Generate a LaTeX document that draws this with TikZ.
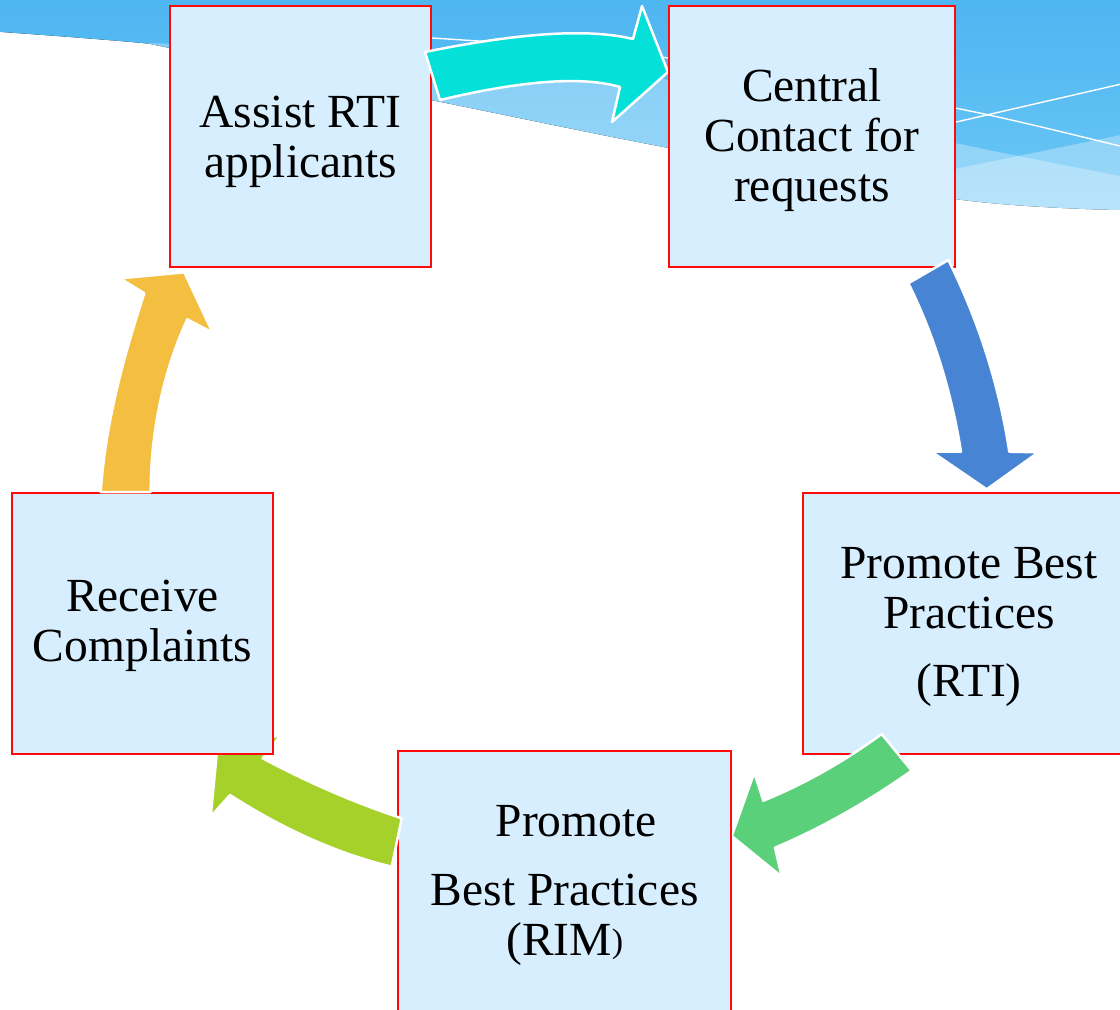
\documentclass[tikz,border=0pt]{standalone}
\usepackage{fontspec}
\setmainfont{Liberation Serif}
\definecolor{skytop}{HTML}{4DB5F1}
\definecolor{skylow}{HTML}{6CC8F6}
\definecolor{boxfill}{HTML}{D6EEFD}
\definecolor{boxred}{HTML}{FF0A0A}
\definecolor{arrcyan}{HTML}{05E1D9}
\definecolor{arrblue}{HTML}{4884D4}
\definecolor{arrgreen}{HTML}{5BD07B}
\definecolor{arrlime}{HTML}{A5D12A}
\definecolor{arryellow}{HTML}{F4BF41}
\begin{document}
\begin{tikzpicture}[x=1pt,y=-1pt,
  box/.style={rectangle, draw=boxred, line width=1.8pt, fill=boxfill, inner sep=0pt},
  boxtext/.style={inner sep=0pt, anchor=base, text=black, font=\fontsize{47.5}{50}\selectfont},
  blockarrow/.style={draw=white, line width=2.5pt, line join=round}]
\useasboundingbox (0,0) rectangle (1120,1010);
\clip (0,0) rectangle (1120,1010);

% wave band along the top edge
\begin{scope}
  \path[clip] (-5,-5) -- (1125,-5) -- (1125,211) -- plot[smooth,tension=0.55]
    coordinates {(1120,210) (955,199) (669,148) (431,100) (170,48) (147,43.5) (70,37) (-5,31.5)} -- cycle;
  \fill[top color=skytop, bottom color=skylow] (-5,-5) rectangle (1125,215);
  \fill[white, opacity=0.3] plot[smooth,tension=0.55]
    coordinates {(147,43) (300,48) (431,55) (669,80) (955,143) (1120,176) (1130,178)}
    -- (1130,300) -- (147,300) -- cycle;
  \fill[white, opacity=0.3] (800,201) -- (1130,133) -- (1130,300) -- (800,300) -- cycle;
  \draw[white, line width=1.4pt] plot[smooth]
    coordinates {(250,31) (432,38) (668,58) (955,108) (1120,146) (1130,148)};
  \draw[white, line width=1.4pt] (800,158) -- (1130,82);
\end{scope}

% cycle of steps with curved block arrows between them
\node[box, minimum width=261pt, minimum height=261pt] (b1) at (300.5,136.5) {};
\node[boxtext] (t1) at (300.5,127) {\begin{tabular}[t]{@{}c@{}}Assist RTI\\applicants\end{tabular}};

\fill[arrcyan, blockarrow] (425,52) .. controls (518,33) and (588,28) .. (633,39)
  -- (642,6) -- (668,72) -- (612,122) -- (620,87)
  .. controls (582.7,76) and (522.7,80.3) .. (440,100) -- cycle;

\node[box, minimum width=285.7pt, minimum height=261.3pt] (b2) at (811.85,136.65) {};
\node[boxtext] (t2) at (812,101.7) {\begin{tabular}[t]{@{}c@{}}Central\\Contact for\\requests\end{tabular}};

\fill[arrblue, blockarrow] (908.3,283.3) -- (948.3,260)
  .. controls (978.3,320) and (999.3,385.7) .. (1009.3,451.7)
  -- (1038.3,452.3) -- (986.7,489.3) -- (931.7,451.7) -- (961,451.7)
  .. controls (951.6,393.3) and (934.7,336) .. (908.3,283.3) -- cycle;

\node[box, minimum width=331.7pt, minimum height=261pt] (b3) at (969.2,623.2) {};
\node[boxtext] (t3) at (969,578.3) {\begin{tabular}[t]{@{}c@{}}Promote Best\\Practices\\[18.4pt](RTI)\end{tabular}};

\fill[arrgreen, blockarrow] (881.7,734) -- (911.7,770.7)
  .. controls (866.2,802.8) and (820.6,828.4) .. (775,847.7)
  -- (781.7,876.7) -- (731.7,836) -- (754.3,772.7) -- (763.3,800.7)
  .. controls (803.9,784.2) and (843.4,762) .. (881.7,734) -- cycle;

\node[box, minimum width=332.7pt, minimum height=347.3pt] (b4) at (564.7,924.3) {};
\node[boxtext] (t4) at (564.7,836.7) {\begin{tabular}[t]{@{}c@{}}\hspace*{23pt}Promote\\[18.3pt]Best Practices\\(RIM\raisebox{3pt}{\fontsize{34}{34}\selectfont)}\end{tabular}};

\fill[arrlime, blockarrow] (401.7,818.3) .. controls (355.4,803) and (309,783) .. (262.7,758.3)
  -- (281,735) -- (217,751) -- (210.7,816.7) -- (230,795)
  .. controls (283.9,829.7) and (337.8,853.6) .. (391.7,866.7) -- cycle;

\node[box, minimum width=261.6pt, minimum height=261.3pt] (b5) at (142.5,623.35) {};
\node[boxtext] (t5) at (142.5,611.7) {\begin{tabular}[t]{@{}c@{}}Receive\\Complaints\end{tabular}};

\fill[arryellow, blockarrow] (100.7,492) .. controls (105.4,423.7) and (123.5,357) .. (144.3,293.3)
  -- (120,278.3) -- (184.3,272.3) -- (212.7,332.7) -- (187.3,319.3)
  .. controls (162.9,372.1) and (150.7,432.7) .. (150.7,492) -- cycle;
\end{tikzpicture}
\end{document}
